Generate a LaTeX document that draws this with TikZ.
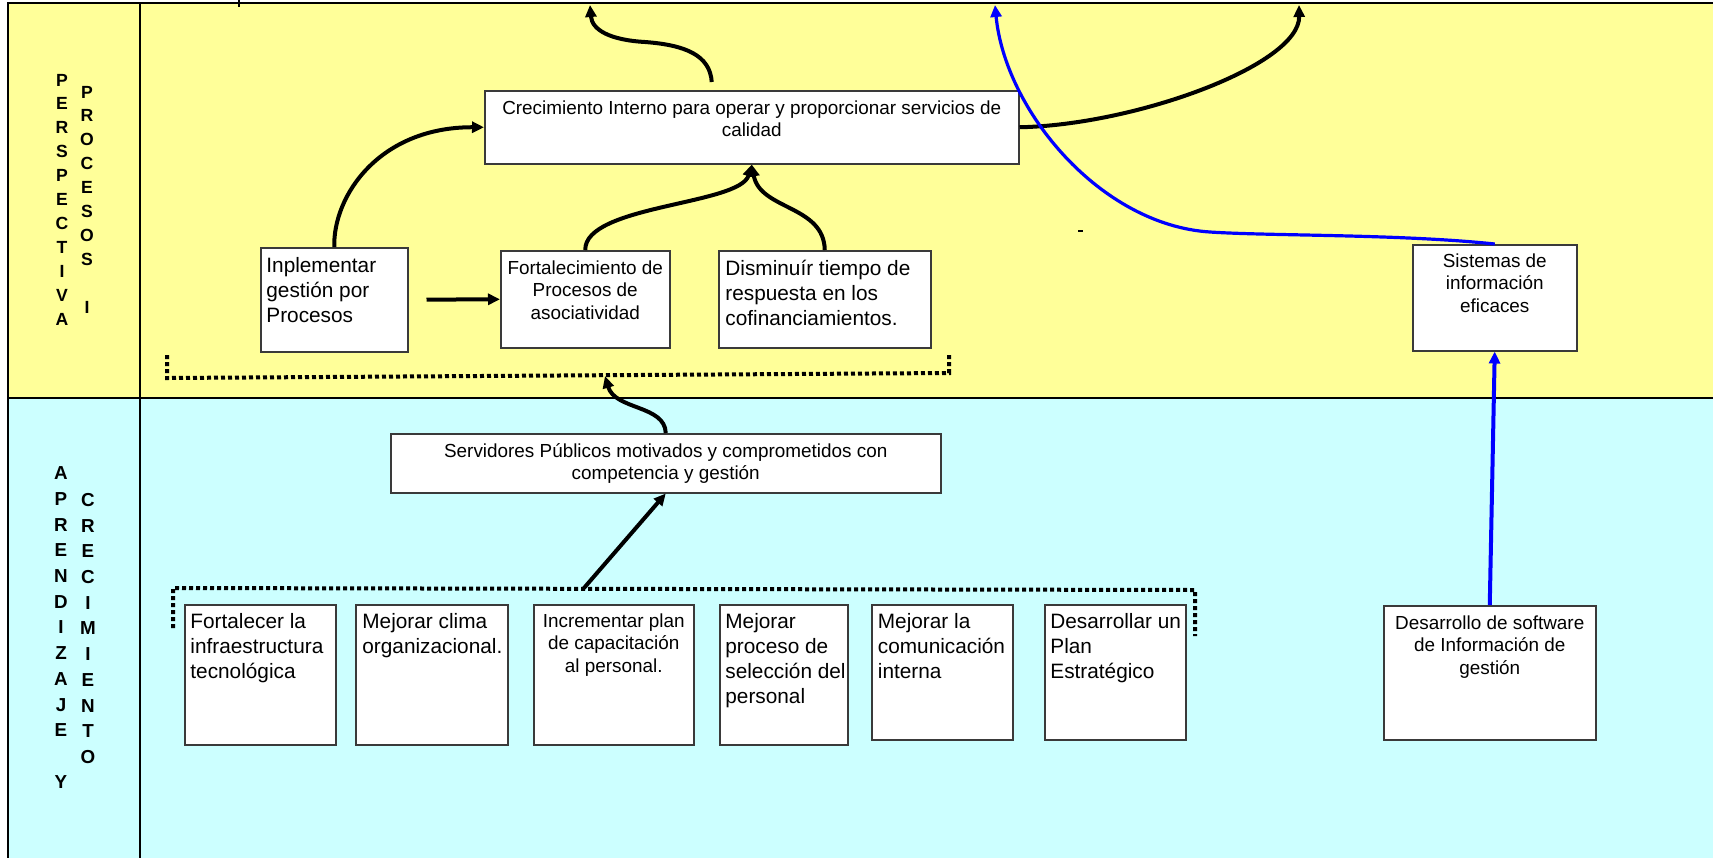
\documentclass[tikz,border=0pt]{standalone}
\usepackage{fontspec}
\setmainfont{Liberation Sans}
\usetikzlibrary{arrows.meta}
\definecolor{bandyellow}{HTML}{FFFF99}
\definecolor{bandcyan}{HTML}{CCFFFF}
\definecolor{boxline}{HTML}{3A3A3A}
\newcommand\txtbig{\fontsize{10.4pt}{12.5pt}\selectfont}
\newcommand\txtsmall{\fontsize{9.45pt}{11.25pt}\selectfont}
\newcommand\lblyel{\fontsize{8.8pt}{11.95pt}\selectfont\bfseries}
\newcommand\lblcyn{\fontsize{9.4pt}{12.85pt}\selectfont\bfseries}

\begin{document}
\begin{tikzpicture}[x=0.5pt,y=-0.5pt,
  box/.style={draw=boxline, fill=white, line width=0.75pt, anchor=north west, inner sep=0pt},
  bsize/.style 2 args={minimum width=#1*0.5pt, minimum height=#2*0.5pt},
  lt/.style={anchor=north west, align=left, inner sep=0pt, font=\txtbig},
  ct/.style={anchor=north, align=center, inner sep=0pt, font=\txtsmall},
  frame/.style={line width=1.3pt, draw=black},
  dotline/.style={line width=2pt, dash pattern=on 2pt off 1.5pt},
  arr/.style={line width=2pt, -{Triangle[length=6pt,width=5.5pt]}},
  blu/.style={draw=blue, line width=1.6pt, -{Triangle[length=6pt,width=5.5pt]}},
  lab/.style={align=center, inner sep=0pt}]

\useasboundingbox (0,0) rectangle (1713,858);
\fill[white] (0,0) rectangle (1713,858);

% perspective bands
\fill[bandyellow] (8,3) rectangle (1713,398);
\fill[bandcyan] (8,398) rectangle (1713,858);
\draw[frame] (1713,3) -- (8,3) -- (8,858);
\draw[frame] (140,3) -- (140,858);
\draw[frame] (8,398) -- (1713,398);
\draw[line width=0.8pt] (239,0) -- (239,7);
\draw[line width=1.2pt] (1078,231) -- (1083,231);

% vertical band titles
\node[lab, font=\lblyel] (lp1) at (62,199.5) {P\\E\\R\\S\\P\\E\\C\\T\\I\\V\\A};
\node[lab, font=\lblyel] (lp2) at (87,199.5) {P\\R\\O\\C\\E\\S\\O\\S\\\mbox{}\\I};
\node[lab, font=\lblcyn] (la1) at (61,627.5) {A\\P\\R\\E\\N\\D\\I\\Z\\A\\J\\E\\\mbox{}\\Y};
\node[lab, font=\lblcyn] (la2) at (88,628.5) {C\\R\\E\\C\\I\\M\\I\\E\\N\\T\\O};

% grouping brackets
\draw[dotline] (167,355) -- (167,378) -- (949,373) -- (949,355);
\draw[dotline] (173,628) -- (173,588) -- (1195,590) -- (1195,636);
\coordinate (b1) at (605,376);
\coordinate (b2) at (584,588);

% process objectives
\node[box, bsize={534}{73}] (cre) at (484,90) {};
\node[ct] (cre-t) at ([shift={(0,10)}]cre.north) {Crecimiento Interno para operar y proporcionar servicios de\\calidad};

\node[box, bsize={147}{104}] (inp) at (260,247) {};
\node[lt] (inp-t) at ([shift={(6,10)}]inp.north west) {Inplementar\\gestión por\\Procesos};

\node[box, bsize={169}{97}] (fort) at (500,250) {};
\node[ct] (fort-t) at ([shift={(0,10)}]fort.north) {Fortalecimiento de\\Procesos de\\asociatividad};

\node[box, bsize={212}{97}] (dism) at (718,250) {};
\node[lt] (dism-t) at ([shift={(7,10)}]dism.north west) {Disminuír tiempo de\\respuesta en los\\cofinanciamientos.};

\node[box, bsize={164}{106}] (sis) at (1412,244) {};
\node[ct] (sis-t) at ([shift={(0,9)}]sis.north) {Sistemas de\\información\\eficaces};

% learning objectives
\node[box, bsize={550}{59}] (srv) at (390,433) {};
\node[ct] (srv-t) at ([shift={(0,10)}]srv.north) {Servidores Públicos motivados y comprometidos con\\competencia y gestión};

\node[box, bsize={151}{140}] (infra) at (184,604) {};
\node[lt] (infra-t) at ([shift={(6,9)}]infra.north west) {Fortalecer la\\infraestructura\\tecnológica};

\node[box, bsize={152}{140}] (clima) at (355,604) {};
\node[lt] (clima-t) at ([shift={(7,9)}]clima.north west) {Mejorar clima\\organizacional.};

\node[box, bsize={160}{140}] (capa) at (533,604) {};
\node[ct] (capa-t) at ([shift={(0,9)}]capa.north) {Incrementar plan\\de capacitación\\al personal.};

\node[box, bsize={128}{140}] (selec) at (719,604) {};
\node[lt] (selec-t) at ([shift={(6,9)}]selec.north west) {Mejorar\\proceso de\\selección del\\personal};

\node[box, bsize={141}{135}] (comu) at (871,604) {};
\node[lt] (comu-t) at ([shift={(6.5,9)}]comu.north west) {Mejorar la\\comunicación\\interna};

\node[box, bsize={141}{135}] (plan) at (1044,604) {};
\node[lt] (plan-t) at ([shift={(6,9)}]plan.north west) {Desarrollar un\\Plan\\Estratégico};

\node[box, bsize={212}{134}] (soft) at (1383,605) {};
\node[ct] (soft-t) at ([shift={(0,10)}]soft.north) {Desarrollo de software\\de Información de\\gestión};

% free ends at the upper edge
\coordinate (top1) at (590,5);
\coordinate (top2) at (1299,5);
\coordinate (top3) at (995,5);

% cause-effect links
\draw[arr] (inp.north) .. controls (333,195) and (380,127) .. (cre.west);
\draw[arr, shorten <=9pt] (inp.east) -- (fort.west);
\draw[arr] (fort.north) .. controls (584.5,205) and (740,205) .. (cre.south);
\draw[arr] (dism.north) .. controls (824,205) and (760,210) .. (cre.south);
\draw[arr] ([shift={(-40,-8)}]cre.north) .. controls (710,55) and (685,45) .. (645,42)
           .. controls (610,40) and (592,30) .. (top1);
\draw[arr] (cre.east) .. controls (1135,125) and (1300,65) .. (top2);
\draw[blu] (sis.north) .. controls (1400,234) and (1270,236) .. (1210,232)
           .. controls (1100,225) and (1005,110) .. (top3);
\draw[blu, line width=2pt] (soft.north) -- (sis.south);
\draw[arr] (b2) -- (srv.south);
\draw[arr] (srv.north) .. controls (665,405) and (615,410) .. (b1);
\end{tikzpicture}
\end{document}
